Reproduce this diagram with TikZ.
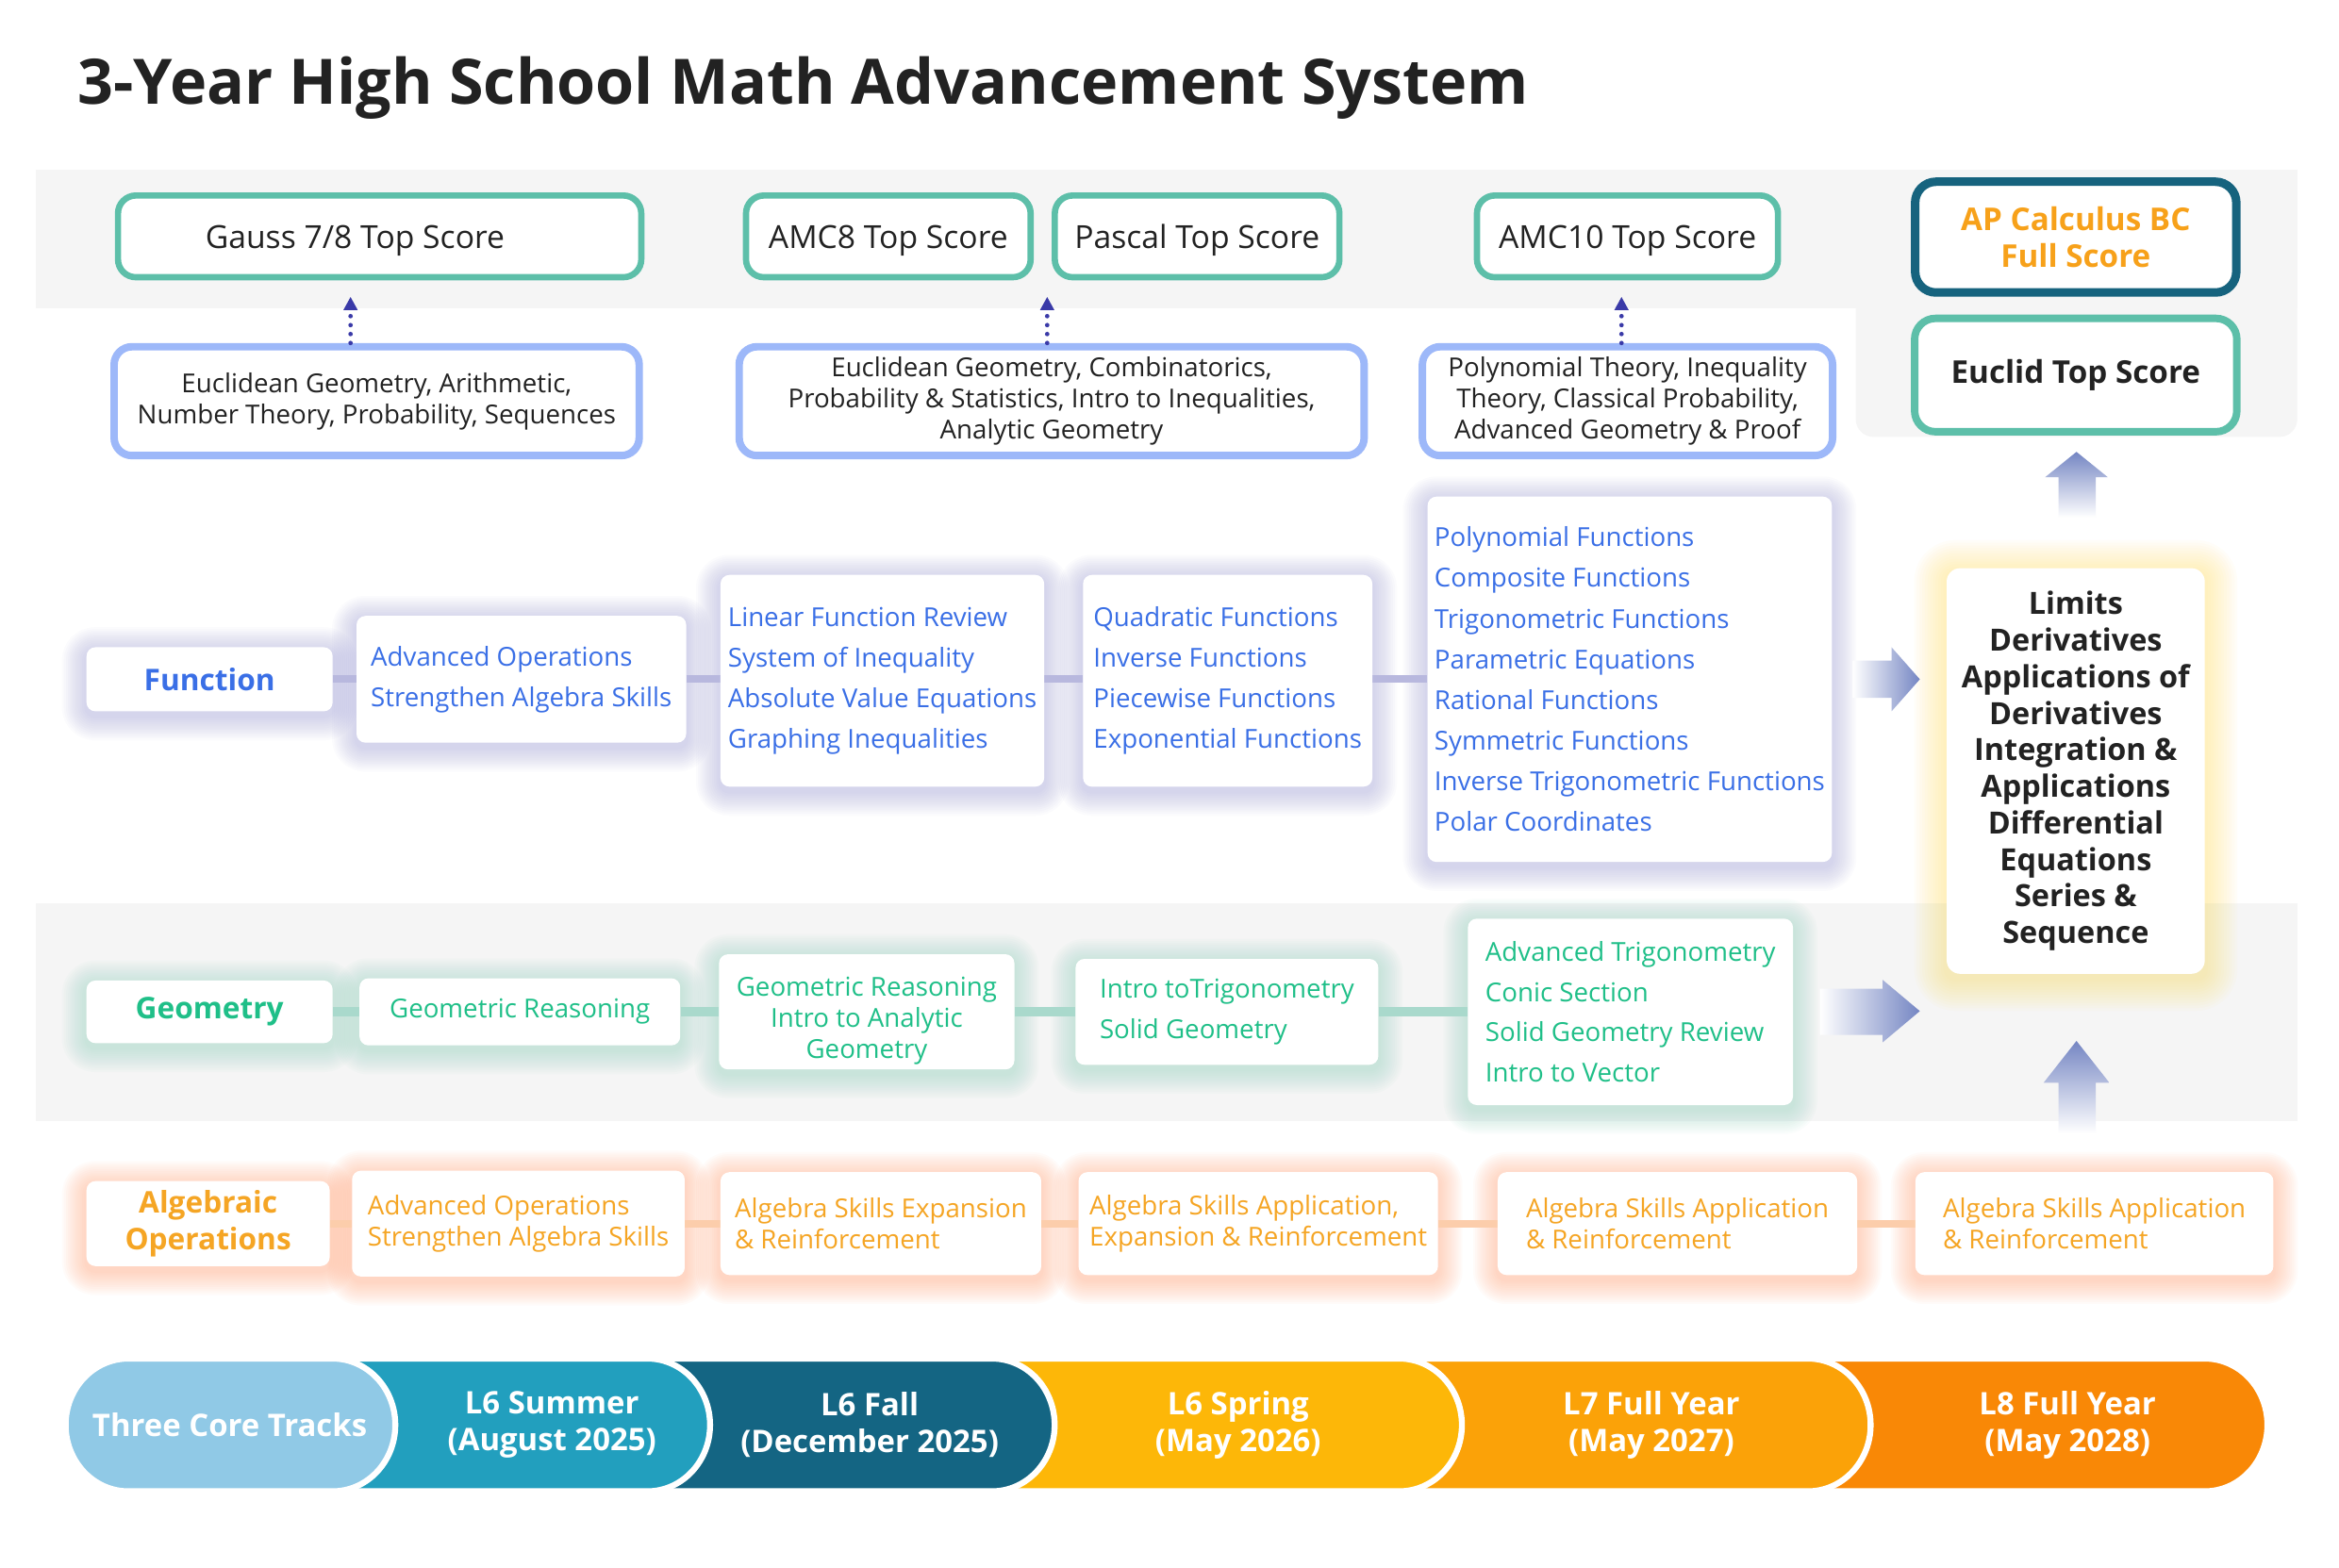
\documentclass[tikz,border=0pt]{standalone}
\usepackage{fontspec}
\setmainfont{Open Sans}
\usetikzlibrary{arrows.meta,calc}
\definecolor{txt}{HTML}{222222}
\definecolor{tealc}{HTML}{5DBFA9}
\definecolor{dteal}{HTML}{16637E}
\definecolor{apor}{HTML}{F7A11A}
\definecolor{blueb}{HTML}{9DB8F9}
\definecolor{fblue}{HTML}{3A6FE6}
\definecolor{ggreen}{HTML}{1FBF88}
\definecolor{aor}{HTML}{F5A524}
\definecolor{fconn}{HTML}{B8B8DE}
\definecolor{gconn}{HTML}{A9D9CC}
\definecolor{aconn}{HTML}{FCCDAB}
\definecolor{graybg}{HTML}{F5F5F5}
\definecolor{arrowc}{HTML}{7586C3}
\definecolor{dotc}{HTML}{3A3AA8}
\definecolor{fglow}{HTML}{9C9CD8}
\definecolor{gglow}{HTML}{8ED2BE}
\definecolor{aglow}{HTML}{FFA070}
\definecolor{yglow}{HTML}{FFE060}
\definecolor{pillA}{HTML}{90C9E6}
\definecolor{pillB}{HTML}{229FBE}
\definecolor{pillC}{HTML}{146583}
\definecolor{pillD}{HTML}{FDB708}
\definecolor{pillE}{HTML}{FBA208}
\definecolor{pillF}{HTML}{F98806}

\pgfdeclarelayer{bg}
\pgfdeclarelayer{glow}
\pgfdeclarelayer{conn}
\pgfsetlayers{bg,glow,conn,main}

\newcommand\glowfor[3]{%
  \foreach \k in {1,...,12}{%
    \pgfmathsetmacro\gd{\k*#3}%
    \fill[#2,opacity=0.04,rounded corners=\gd pt+6pt]
      ([xshift=-\gd pt,yshift=-\gd pt-3pt]#1.south west) rectangle
      ([xshift=\gd pt,yshift=\gd pt-3pt]#1.north east);
  }}

\newcommand\pillseg[3]{%
  \filldraw[fill=#1,draw=white,line width=4pt] (#2,911) -- ({#3-42},911)
    arc[start angle=90,end angle=-90,x radius=42pt,y radius=44.5pt] -- (#2,1000) -- cycle;}

\tikzset{
  scorebox/.style={draw=tealc,line width=4.2pt,rounded corners=12pt,fill=white,inner sep=0pt,
    minimum height=54.8pt,text height=16pt,text depth=0pt,text=txt,font=\fontsize{21.3}{24}\selectfont},
  apbox/.style={draw=dteal,line width=5.7pt,rounded corners=14pt,fill=white,inner sep=0pt,
    minimum width=215.3pt,minimum height=74.3pt,align=center,text=apor,
    font=\bfseries\fontsize{21}{25}\selectfont},
  eubox/.style={draw=tealc,line width=5pt,rounded corners=14pt,fill=white,inner sep=0pt,
    minimum width=216pt,minimum height=76pt,align=center,text=txt,
    font=\bfseries\fontsize{21}{25}\selectfont},
  topicbox/.style={draw=blueb,line width=5pt,rounded corners=12pt,fill=white,inner sep=0pt,
    minimum height=73pt,align=center,text=txt,font=\fontsize{17.5}{20.8}\selectfont},
  card/.style={fill=white,rounded corners=6pt,inner xsep=4pt,inner ysep=3pt},
  fcard/.style={card,align=left,text=fblue,font=\fontsize{17.5}{27.3}\selectfont},
  gcard/.style={card,align=left,text=ggreen,font=\fontsize{17.5}{27}\selectfont},
  gcardc/.style={card,align=center,text=ggreen,font=\fontsize{17.5}{21}\selectfont},
  acard/.style={card,align=left,text=aor,font=\fontsize{17.5}{21}\selectfont},
  rowlabel/.style={card,align=center,font=\bfseries\fontsize{20}{25}\selectfont},
  calcbox/.style={fill=white,rounded corners=9pt,inner sep=0pt,minimum width=173pt,
    minimum height=272pt,align=center,text=txt,font=\bfseries\fontsize{20.5}{24.5}\selectfont},
  pilltxt/.style={align=center,text=white,font=\bfseries\fontsize{20.8}{25}\selectfont},
  fline/.style={draw=fconn,line width=5pt},
  gline/.style={draw=gconn,line width=6pt},
  aline/.style={draw=aconn,line width=5pt},
  dotarrow/.style={draw=dotc,line width=3pt,line cap=round,dash pattern=on 0pt off 6pt,
    shorten >=11pt,-{Triangle[length=9pt,width=9pt]}},
}

\begin{document}
\begin{tikzpicture}[x=1pt,y=-1pt]
\useasboundingbox (0,0) rectangle (1568,1051.4);

\begin{pgfonlayer}{bg}
  \fill[white] (0,0) rectangle (1568,1051.4);
  \fill[graybg] (24,114) rectangle (1540,207);
  \fill[graybg,rounded corners=12pt] (1244,114) -- (1540,114) -- (1540,293) -- (1244,293) -- cycle;
  \fill[graybg] (24,606) rectangle (1540,752);
\end{pgfonlayer}

% title
\node[anchor=base west,inner sep=0pt,text=txt,font=\bfseries\fontsize{42}{48}\selectfont] (title) at (52,70)
  {3-Year High School Math Advancement System};

% score boxes
\node[scorebox,minimum width=350.8pt] (S1) at (254.5,158.5) {Gauss 7/8 Top Score\hspace*{33pt}};
\node[scorebox,minimum width=190.8pt] (S2) at (595.5,158.5) {AMC8 Top Score};
\node[scorebox,minimum width=190.8pt] (S3) at (802.5,158.5) {Pascal Top Score};
\node[scorebox,minimum width=201.8pt] (S4) at (1091,158.5) {AMC10 Top Score};
\node[apbox] (AP) at (1391.5,159) {AP Calculus BC\\Full Score};
\node[eubox] (EU) at (1391.5,251.5) {Euclid Top Score};

% topic boxes
\node[topicbox,minimum width=352pt] (T1) at (252.5,269)
  {Euclidean Geometry, Arithmetic,\\Number Theory, Probability, Sequences};
\node[topicbox,minimum width=419pt] (T2) at (705,269)
  {Euclidean Geometry, Combinatorics,\\Probability \& Statistics, Intro to Inequalities,\\Analytic Geometry};
\node[topicbox,minimum width=275pt] (T3) at (1091,269)
  {Polynomial Theory, Inequality\\Theory, Classical Probability,\\Advanced Geometry \& Proof};

% dotted arrows
\coordinate (d1a) at ([xshift=-17.5pt]T1.north);
\coordinate (d1b) at (d1a |- S1.south);
\coordinate (d2a) at ([xshift=-3pt]T2.north);
\coordinate (d2b) at (d2a |- S2.south);
\coordinate (d3a) at ([xshift=-4pt]T3.north);
\coordinate (d3b) at (d3a |- S4.south);
\draw[dotarrow] (d1a) -- (d1b);
\draw[dotarrow] (d2a) -- (d2b);
\draw[dotarrow] (d3a) -- (d3b);

% Function row
\node[rowlabel,text=fblue,minimum width=165pt,minimum height=43pt] (F0) at (140.5,455.5) {Function};
\node[fcard,minimum width=221pt,minimum height=85pt] (F1) at (349.5,455.5)
  {Advanced Operations\\Strengthen Algebra Skills};
\node[fcard,minimum width=217pt,minimum height=142pt] (F2) at (591.5,456.5)
  {Linear Function Review\\System of Inequality\\Absolute Value Equations\\Graphing Inequalities};
\node[fcard,minimum width=194pt,minimum height=142pt] (F3) at (823,456.5)
  {Quadratic Functions\\Inverse Functions\\Piecewise Functions\\Exponential Functions};
\node[fcard,minimum width=271pt,minimum height=245pt] (F4) at (1092.5,455.5)
  {Polynomial Functions\\Composite Functions\\Trigonometric Functions\\Parametric Equations\\Rational Functions\\Symmetric Functions\\Inverse Trigonometric Functions\\Polar Coordinates};

% Geometry row
\node[rowlabel,text=ggreen,minimum width=165pt,minimum height=42pt] (G0) at (140.5,678.5) {Geometry};
\node[gcard,minimum width=215pt,minimum height=45pt] (G1) at (348.5,678.5) {Geometric Reasoning};
\node[gcardc,minimum width=198pt,minimum height=73pt] (G2) at (581,678.5)
  {\rule{0pt}{25pt}Geometric Reasoning\\Intro to Analytic\\Geometry};
\node[gcard,minimum width=203pt,minimum height=71pt] (G3) at (822.5,678.5)
  {Intro toTrigonometry\\Solid Geometry};
\node[gcard,minimum width=218pt,minimum height=125pt] (G4) at (1093,678.5)
  {Advanced Trigonometry\\Conic Section\\Solid Geometry Review\\Intro to Vector};

% Algebra row
\node[rowlabel,text=aor,minimum width=163pt,minimum height=57pt] (A0) at (139.5,820.5) {Algebraic\\Operations};
\node[acard,minimum width=223pt,minimum height=71pt] (A1) at (347.5,820.5)
  {Advanced Operations\\Strengthen Algebra Skills};
\node[acard,minimum width=215pt,minimum height=69pt] (A2) at (590.5,820.5)
  {Algebra Skills Expansion\\\& Reinforcement};
\node[acard,minimum width=241pt,minimum height=69pt] (A3) at (843.5,820.5)
  {Algebra Skills Application,\\Expansion \& Reinforcement};
\node[acard,minimum width=241pt,minimum height=69pt] (A4) at (1124.5,820.5)
  {Algebra Skills Application\\\& Reinforcement};
\node[acard,minimum width=240pt,minimum height=69pt] (A5) at (1404,820.5)
  {Algebra Skills Application\\\& Reinforcement};

% calculus box
\node[calcbox] (CB) at (1391.5,517)
  {Limits\\Derivatives\\Applications of\\Derivatives\\Integration \&\\Applications\\Differential\\Equations\\Series \&\\Sequence};

% glows
\begin{pgfonlayer}{glow}
  \foreach \n in {F0,F1,F2,F3,F4}{\glowfor{\n}{fglow}{1.35}}
  \foreach \n in {G0,G1,G2,G3,G4}{\glowfor{\n}{gglow}{1.35}}
  \foreach \n in {A0,A1,A2,A3,A4,A5}{\glowfor{\n}{aglow}{1.35}}
  \glowfor{CB}{yglow}{1.8}
\end{pgfonlayer}

% connectors
\begin{pgfonlayer}{conn}
  \draw[fline] (F0.east) -- (F1.west);
  \draw[fline] (F1.east) -- (F2.west |- F1.east);
  \draw[fline] (F2.east |- F1.east) -- (F3.west |- F1.east);
  \draw[fline] (F3.east |- F1.east) -- (F4.west);
  \draw[gline] (G0.east) -- (G1.west);
  \draw[gline] (G1.east) -- (G2.west);
  \draw[gline] (G2.east) -- (G3.west);
  \draw[gline] (G3.east) -- (G4.west);
  \draw[aline] (A0.east) -- (A1.west);
  \draw[aline] (A1.east) -- (A2.west);
  \draw[aline] (A2.east) -- (A3.west);
  \draw[aline] (A3.east) -- (A4.west);
  \draw[aline] (A4.east) -- (A5.west);
\end{pgfonlayer}

% big gradient arrows
\shade[left color=white,right color=arrowc] (1242,443) -- (1268,443) -- (1268,434) -- (1287,455.5)
  -- (1268,477) -- (1268,468) -- (1242,468) -- cycle;
\shade[left color=white,right color=arrowc] (1220,663) -- (1262,663) -- (1262,657) -- (1287,678)
  -- (1262,699) -- (1262,694) -- (1220,694) -- cycle;
\shade[bottom color=white,top color=arrowc] (1380,347) -- (1380,320) -- (1371,320) -- (1392,303)
  -- (1413,320) -- (1405,320) -- (1405,347) -- cycle;
\shade[bottom color=white,top color=arrowc] (1380,760) -- (1380,726) -- (1370,726) -- (1392,698)
  -- (1414,726) -- (1405,726) -- (1405,760) -- cycle;

% timeline pills
\pillseg{pillF}{1210}{1520}
\pillseg{pillE}{940}{1254}
\pillseg{pillD}{670}{980}
\pillseg{pillC}{440}{707}
\pillseg{pillB}{220}{476}
\filldraw[fill=pillA,draw=white,line width=4pt] (86,911) -- (223,911)
  arc[start angle=90,end angle=-90,x radius=42pt,y radius=44.5pt] -- (86,1000)
  arc[start angle=270,end angle=90,x radius=42pt,y radius=44.5pt] -- cycle;
\node[pilltxt] (P0) at (154,955.5) {Three Core Tracks};
\node[pilltxt] (P1) at (370,955.5) {L6 Summer\\(August 2025)};
\node[pilltxt] (P2) at (583,955.5) {L6 Fall\\(December 2025)};
\node[pilltxt] (P3) at (830,955.5) {L6 Spring\\(May 2026)};
\node[pilltxt] (P4) at (1107,955.5) {L7 Full Year\\(May 2027)};
\node[pilltxt] (P5) at (1386,955.5) {L8 Full Year\\(May 2028)};
\end{tikzpicture}
\end{document}
